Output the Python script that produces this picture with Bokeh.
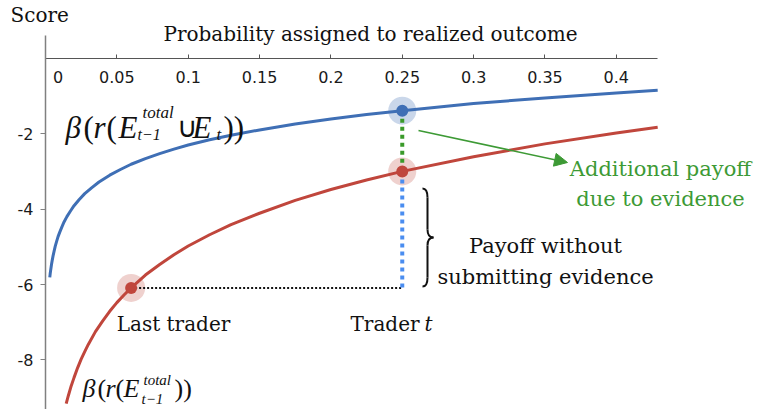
from bokeh.plotting import figure
from bokeh.models import Range1d, FixedTicker, Arrow, NormalHead
from bokeh.core.properties import value
from bokeh.embed import file_html
from bokeh.resources import INLINE

# ---- data ----
prob_blue = [0.003, 0.0033, 0.0037, 0.0042, 0.0047, 0.0053, 0.006, 0.0068, 0.0077, 0.0088,
             0.01, 0.0115, 0.013, 0.015, 0.0175, 0.02, 0.0235, 0.0275, 0.0325, 0.0375,
             0.045, 0.0525, 0.06, 0.07, 0.08, 0.09, 0.1, 0.115, 0.13, 0.15, 0.175,
             0.2, 0.225, 0.25, 0.3, 0.35, 0.4, 0.429]
score_blue = [-5.81, -5.71, -5.60, -5.47, -5.36, -5.24, -5.12, -4.99, -4.87, -4.73,
              -4.61, -4.47, -4.34, -4.20, -4.05, -3.91, -3.75, -3.59, -3.43, -3.28,
              -3.10, -2.95, -2.81, -2.66, -2.53, -2.41, -2.30, -2.16, -2.04, -1.90, -1.74,
              -1.61, -1.49, -1.39, -1.20, -1.05, -0.92, -0.85]
prob_red = [0.0145, 0.016, 0.018, 0.02, 0.0225, 0.025, 0.0275, 0.03, 0.035, 0.04, 0.045,
            0.05, 0.055, 0.06, 0.07, 0.08, 0.09, 0.1, 0.115, 0.13, 0.15, 0.175, 0.2,
            0.225, 0.25, 0.3, 0.35, 0.4, 0.429]
score_red = [-9.16, -8.95, -8.69, -8.47, -8.21, -7.98, -7.78, -7.59, -7.25, -6.97, -6.71,
             -6.48, -6.28, -6.09, -5.75, -5.47, -5.21, -4.98, -4.68, -4.41, -4.11, -3.77, -3.48,
             -3.23, -3.00, -2.61, -2.27, -1.98, -1.83]
x_ticks = [0, 0.05, 0.1, 0.15, 0.2, 0.25, 0.3, 0.35, 0.4]
y_ticks = [-8, -6, -4, -2]
y_tick_labels = ["-8", "-6", "-4", "-2"]
p_last = 0.06      # last trader's probability
p_now = 0.25       # trader t's probability

y_blue_now = score_blue[prob_blue.index(p_now)]
y_red_now = score_red[prob_red.index(p_now)]
y_red_last = score_red[prob_red.index(p_last)]

# ---- layout helpers (picture pixel -> data) ----
def X(px):
    return (px - 45) / 1427.0

def Y(py):
    return (57.8 - py) / 37.7

W, H = 757, 409
p = figure(width=W, height=H, x_range=Range1d(X(0), X(W)), y_range=Range1d(Y(H), Y(0)),
           output_backend="svg", toolbar_location=None, min_border=0)
p.grid.visible = False
p.outline_line_color = None
p.background_fill_color = "white"

xa = p.xaxis[0]
xa.fixed_location = 0
xa.bounds = (0, 0.429)
xa.ticker = FixedTicker(ticks=x_ticks)
xa.major_tick_in = 4
xa.major_tick_out = 0
xa.minor_tick_line_color = None
xa.axis_line_color = "#555555"
xa.major_tick_line_color = "#555555"
xa.axis_line_width = 1.2
xa.major_label_standoff = 10
xa.major_label_text_font = "DejaVu Sans"
xa.major_label_text_font_size = "16px"
xa.major_label_text_color = "#1a1a1a"
xa.major_label_overrides = {0: "\u00a0\u00a0\u00a0\u00a0\u00a00"}

ya = p.yaxis[0]
ya.fixed_location = 0
ya.bounds = (Y(H + 5), Y(35))
ya.ticker = FixedTicker(ticks=y_ticks)
ya.major_tick_in = 0
ya.major_tick_out = 5
ya.minor_tick_line_color = None
ya.axis_line_color = "#808080"
ya.major_tick_line_color = "#808080"
ya.axis_line_width = 1.5
ya.major_label_standoff = 7
ya.major_label_text_font = "DejaVu Sans"
ya.major_label_text_font_size = "16px"
ya.major_label_text_color = "#1a1a1a"
ya.major_label_overrides = dict(zip(y_ticks, y_tick_labels))

BLUE = "#3f6fb5"
RED = "#c0463c"
GREEN = "#3d9a35"

# halos
p.scatter([p_now], [y_blue_now], size=28, color=BLUE, alpha=0.28, line_color=None)
p.scatter([p_now, p_last], [y_red_now, y_red_last], size=28, color=RED, alpha=0.25, line_color=None)

# guide lines
p.line([p_last, p_now], [y_red_last, y_red_last], line_color="#111111", line_width=2, line_dash="2 2")
p.line([p_now, p_now], [y_red_now, y_red_last], line_color="#4a8df0", line_width=4, line_dash="4 4")
p.line([p_now, p_now], [y_blue_now, y_red_now], line_color="#3a9a2a", line_width=4, line_dash="4 4")

# curves
p.line(prob_blue, score_blue, line_color=BLUE, line_width=3)
p.line(prob_red, score_red, line_color=RED, line_width=3)

# dots
p.scatter([p_now], [y_blue_now], size=12, color=BLUE, line_color=None)
p.scatter([p_now, p_last], [y_red_now, y_red_last], size=12, color=RED, line_color=None)

# arrow
p.add_layout(Arrow(x_start=X(418), y_start=Y(130), x_end=X(567), y_end=Y(162),
                   line_color=GREEN, line_width=1.6,
                   end=NormalHead(size=13, fill_color=GREEN, line_color=GREEN)))

# brace
bz = [  # (x0,y0,x1,y1,cx0,cy0,cx1,cy1) in picture px
    (422, 188, 427, 197, 426, 188, 427, 191),
    (427, 229, 433, 237, 427, 234, 429, 237),
    (433, 237, 427, 245, 429, 237, 427, 240),
    (427, 277, 422, 286, 427, 283, 426, 286),
]
p.bezier(x0=[X(b[0]) for b in bz], y0=[Y(b[1]) for b in bz],
         x1=[X(b[2]) for b in bz], y1=[Y(b[3]) for b in bz],
         cx0=[X(b[4]) for b in bz], cy0=[Y(b[5]) for b in bz],
         cx1=[X(b[6]) for b in bz], cy1=[Y(b[7]) for b in bz],
         line_color="#111111", line_width=2)
p.segment(x0=[X(427), X(427)], y0=[Y(197), Y(245)], x1=[X(427), X(427)], y1=[Y(229), Y(277)],
          line_color="#111111", line_width=2)

def txt(xs, ys, ss, size, color="#111111", align="center", baseline="middle",
        style="normal", font="DejaVu Serif"):
    p.text(x=[X(v) for v in xs], y=[Y(v) for v in ys], text=ss, text_font=value(font),
           text_font_size=size, text_color=color, text_align=align,
           text_baseline=baseline, text_font_style=style)

txt([10], [14], ["Score"], "20px", align="left")
txt([370], [33], ["Probability assigned to realized outcome"], "20px")
txt([173], [323], ["Last trader"], "20px")
txt([350], [323], ["Trader"], "20px", align="left")
txt([424], [323], ["t"], "20px", align="left", style="italic")
txt([545, 545], [245, 276], ["Payoff without", "submitting evidence"], "21px")
txt([660, 660], [168, 198], ["Additional payoff", "due to evidence"], "21px", color=GREEN)

# math labels
it, up = "italic", "normal"
MF = "Liberation Serif"
m1 = [("\u03b2", 65, 127, "31px", it), ("(", 83, 127, "31px", up), ("r", 93, 127, "31px", it),
      ("(", 106, 127, "31px", up), ("E", 118, 127, "31px", it),
      ("total", 142, 112, "17px", it), ("t\u22121", 137, 134, "16px", it),
      ("\u222a", 176, 127, "28px", up), ("E", 192, 127, "31px", it),
      ("t", 216, 134, "17px", it), ("))", 223, 127, "31px", up)]
m2 = [("\u03b2", 82, 388, "26px", it), ("(", 97, 388, "26px", up), ("r", 105, 388, "26px", it),
      ("(", 115, 388, "26px", up), ("E", 123, 388, "26px", it),
      ("total", 143, 379, "15px", it), ("t\u22121", 141, 398, "15px", it),
      ("))", 174, 388, "26px", up)]
for s, x, y, sz, st in m1 + m2:
    txt([x], [y], [s], sz, align="left", baseline="alphabetic", style=st, font=MF)

open("out.html", "w").write(file_html(p, INLINE))
